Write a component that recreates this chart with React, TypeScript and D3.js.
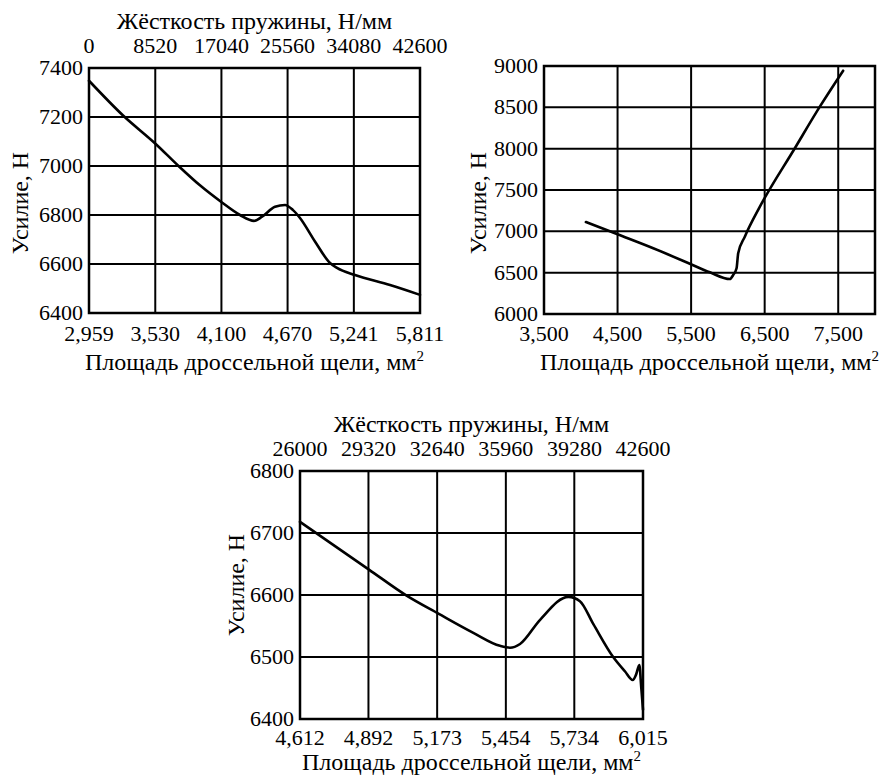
import * as d3 from 'd3';

// Panel A: spring stiffness sweep (full range)
const aTopTicks = [0, 8520, 17040, 25560, 34080, 42600];
const aBottomTicks = [2.959, 3.53, 4.1, 4.67, 5.241, 5.811];
const aYTicks = [6400, 6600, 6800, 7000, 7200, 7400];
const aX = [2.959, 3.255, 3.534, 3.728, 3.915, 4.102, 4.26, 4.381, 4.45, 4.562, 4.648, 4.717, 4.777, 4.906, 5.036, 5.096, 5.251, 5.553, 5.811];
const aY = [7348, 7205, 7090, 7001, 6921, 6852, 6800, 6776, 6793, 6834, 6841, 6820, 6788, 6692, 6604, 6584, 6555, 6514, 6474];

// Panel B: throttle gap area only
const bBottomTicks = [3.5, 4.5, 5.5, 6.5, 7.5];
const bYTicks = [6000, 6500, 7000, 7500, 8000, 8500, 9000];
const bX = [4.07, 4.5, 4.985, 5.49, 5.755, 6.027, 6.072, 6.118, 6.14, 6.23, 6.435, 6.91, 7.25, 7.567];
const bY = [7113, 6964, 6795, 6605, 6504, 6423, 6472, 6553, 6734, 6935, 7298, 8005, 8508, 8943];

// Panel C: stiffness 26000..42600
const cTopTicks = [26000, 29320, 32640, 35960, 39280, 42600];
const cBottomTicks = [4.612, 4.892, 5.173, 5.454, 5.734, 6.015];
const cYTicks = [6400, 6500, 6600, 6700, 6800];
const cX = [4.612, 4.894, 5.048, 5.178, 5.321, 5.43, 5.471, 5.512, 5.594, 5.71, 5.757, 5.812, 5.893, 5.941, 5.973, 5.987, 6.0, 6.008, 6.015];
const cY = [6718, 6641, 6599, 6570, 6539, 6518, 6515, 6521, 6560, 6597, 6590, 6553, 6500, 6477, 6463, 6472, 6487, 6450, 6415];

const FONT = 'Liberation Serif';
const TICK_SIZE = 22;
const TITLE_SIZE = 24;

const fmtArea = (v: number) => v.toFixed(3).replace('.', ',');

interface PanelProps {
  left: number;
  right: number;
  top: number;
  bottom: number;
  xDomain: [number, number];
  yDomain: [number, number];
  xTicks: number[];
  yTicks: number[];
  topTicks?: number[];
  topDomain?: [number, number];
  xs: number[];
  ys: number[];
  yLabelX: number;
  yLabelY: number;
  xTickGap: number;
  xTitleGap: number;
}

function Panel(p: PanelProps) {
  const x = d3.scaleLinear().domain(p.xDomain).range([p.left, p.right]);
  const y = d3.scaleLinear().domain(p.yDomain).range([p.bottom, p.top]);
  const pts = p.xs.map((v, i) => [v, p.ys[i]] as [number, number]);
  const line = d3.line<[number, number]>()
    .x(d => x(d[0]))
    .y(d => y(d[1]))
    .curve(d3.curveMonotoneX);
  const cx = (p.left + p.right) / 2;
  const top = p.topDomain ? d3.scaleLinear().domain(p.topDomain).range([p.left, p.right]) : null;

  return (
    <g fill="#000">
      {/* grid */}
      {p.xTicks.map((t, i) => (
        <line key={'gx' + i} x1={x(t)} x2={x(t)} y1={p.top} y2={p.bottom} stroke="#000" strokeWidth={2} />
      ))}
      {p.yTicks.map((t, i) => (
        <line key={'gy' + i} x1={p.left} x2={p.right} y1={y(t)} y2={y(t)} stroke="#000" strokeWidth={2} />
      ))}
      <rect x={p.left} y={p.top} width={p.right - p.left} height={p.bottom - p.top} fill="none" stroke="#000" strokeWidth={2.5} />

      {/* curve */}
      <path d={line(pts) || ''} fill="none" stroke="#000" strokeWidth={2.6} strokeLinejoin="round" strokeLinecap="round" />

      {/* y ticks */}
      {p.yTicks.map((t, i) => (
        <text key={'ty' + i} x={p.left - 6} y={y(t)} dy="0.32em" textAnchor="end" fontFamily={FONT} fontSize={TICK_SIZE}>{t}</text>
      ))}
      {/* bottom ticks */}
      {p.xTicks.map((t, i) => (
        <text key={'tx' + i} x={x(t)} y={p.bottom + p.xTickGap} textAnchor="middle" fontFamily={FONT} fontSize={TICK_SIZE}>{fmtArea(t)}</text>
      ))}
      <text x={cx} y={p.bottom + p.xTitleGap} textAnchor="middle" fontFamily={FONT} fontSize={TITLE_SIZE}>
        Площадь дроссельной щели, мм<tspan dy="-9" fontSize={15}>2</tspan>
      </text>

      {/* top axis */}
      {top && p.topTicks && p.topTicks.map((t, i) => (
        <text key={'tt' + i} x={top(t)} y={p.top - 15} textAnchor="middle" fontFamily={FONT} fontSize={TICK_SIZE}>{t}</text>
      ))}
      {top && (
        <text x={cx} y={p.top - 39} textAnchor="middle" fontFamily={FONT} fontSize={TITLE_SIZE}>Жёсткость пружины, Н/мм</text>
      )}

      <text
        transform={`translate(${p.yLabelX},${p.yLabelY}) rotate(-90)`}
        textAnchor="middle"
        dy="0.34em"
        fontFamily={FONT}
        fontSize={TITLE_SIZE}
      >
        Усилие, Н
      </text>
    </g>
  );
}

export default function App() {
  return (
    <div style={{ position: 'absolute', left: 0, top: 0, background: '#fff' }}>
      <svg width={885} height={780} viewBox="0 0 885 780" style={{ display: 'block' }}>
        <rect width={885} height={780} fill="#fff" />
        <Panel
          left={89} right={420} top={68} bottom={313}
          xDomain={[2.959, 5.811]} yDomain={[6400, 7400]}
          xTicks={aBottomTicks} yTicks={aYTicks}
          topTicks={aTopTicks} topDomain={[0, 42600]}
          xs={aX} ys={aY}
          yLabelX={20} yLabelY={203} xTickGap={28} xTitleGap={57}
        />
        <Panel
          left={544} right={875} top={66} bottom={314}
          xDomain={[3.5, 8.0]} yDomain={[6000, 9000]}
          xTicks={bBottomTicks} yTicks={bYTicks}
          xs={bX} ys={bY}
          yLabelX={478} yLabelY={203} xTickGap={27} xTitleGap={56}
        />
        <Panel
          left={300} right={643} top={471} bottom={719}
          xDomain={[4.612, 6.015]} yDomain={[6400, 6800]}
          xTicks={cBottomTicks} yTicks={cYTicks}
          topTicks={cTopTicks} topDomain={[26000, 42600]}
          xs={cX} ys={cY}
          yLabelX={236} yLabelY={585} xTickGap={26} xTitleGap={51}
        />
      </svg>
    </div>
  );
}
